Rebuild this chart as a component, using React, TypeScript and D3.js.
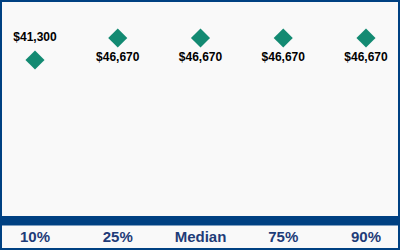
import React from "react";
import * as d3 from "d3";

const categories = ["10%", "25%", "Median", "75%", "90%"];
const values = [41300, 46670, 46670, 46670, 46670];
const labelPositions = ["above", "below", "below", "below", "below"];

const W = 400;
const H = 250;

export default function App() {
  const x = d3.scalePoint<string>().domain(categories).range([35, 366]);
  const y = d3.scaleLinear().domain([30000, 50000]).range([106.3, 24.4]);
  const fmt = (v: number) => "$" + d3.format(",")(v);
  const diamond = d3.symbol().type(d3.symbolSquare).size(182)();

  return (
    <svg
      width={W}
      height={H}
      style={{ position: "absolute", left: 0, top: 0, display: "block" }}
    >
      <rect x={0} y={0} width={W} height={H} fill="#f9f9f9" />
      <rect x={0} y={216} width={W} height={9} fill="#004182" />
      <rect x={0} y={225} width={W} height={1} fill="#7f9fc0" />
      {categories.map((c, i) => (
        <g key={c}>
          <path
            d={diamond as string}
            transform={`translate(${x(c)},${y(values[i])}) rotate(45)`}
            fill="#138a72"
          />
          <text
            x={x(c)}
            y={labelPositions[i] === "above" ? y(values[i]) - 19 : y(values[i]) + 23}
            textAnchor="middle"
            fontFamily="Liberation Sans, Arial, sans-serif"
            fontWeight="bold"
            fontSize={12}
            fill="#000"
          >
            {fmt(values[i])}
          </text>
          <text
            x={x(c)}
            y={242}
            textAnchor="middle"
            fontFamily="Liberation Sans, Arial, sans-serif"
            fontWeight="bold"
            fontSize={15}
            fill="#1f3c78"
          >
            {c}
          </text>
        </g>
      ))}
      <rect x={1} y={1} width={W - 2} height={H - 2} fill="none" stroke="#004182" strokeWidth={2} />
    </svg>
  );
}
